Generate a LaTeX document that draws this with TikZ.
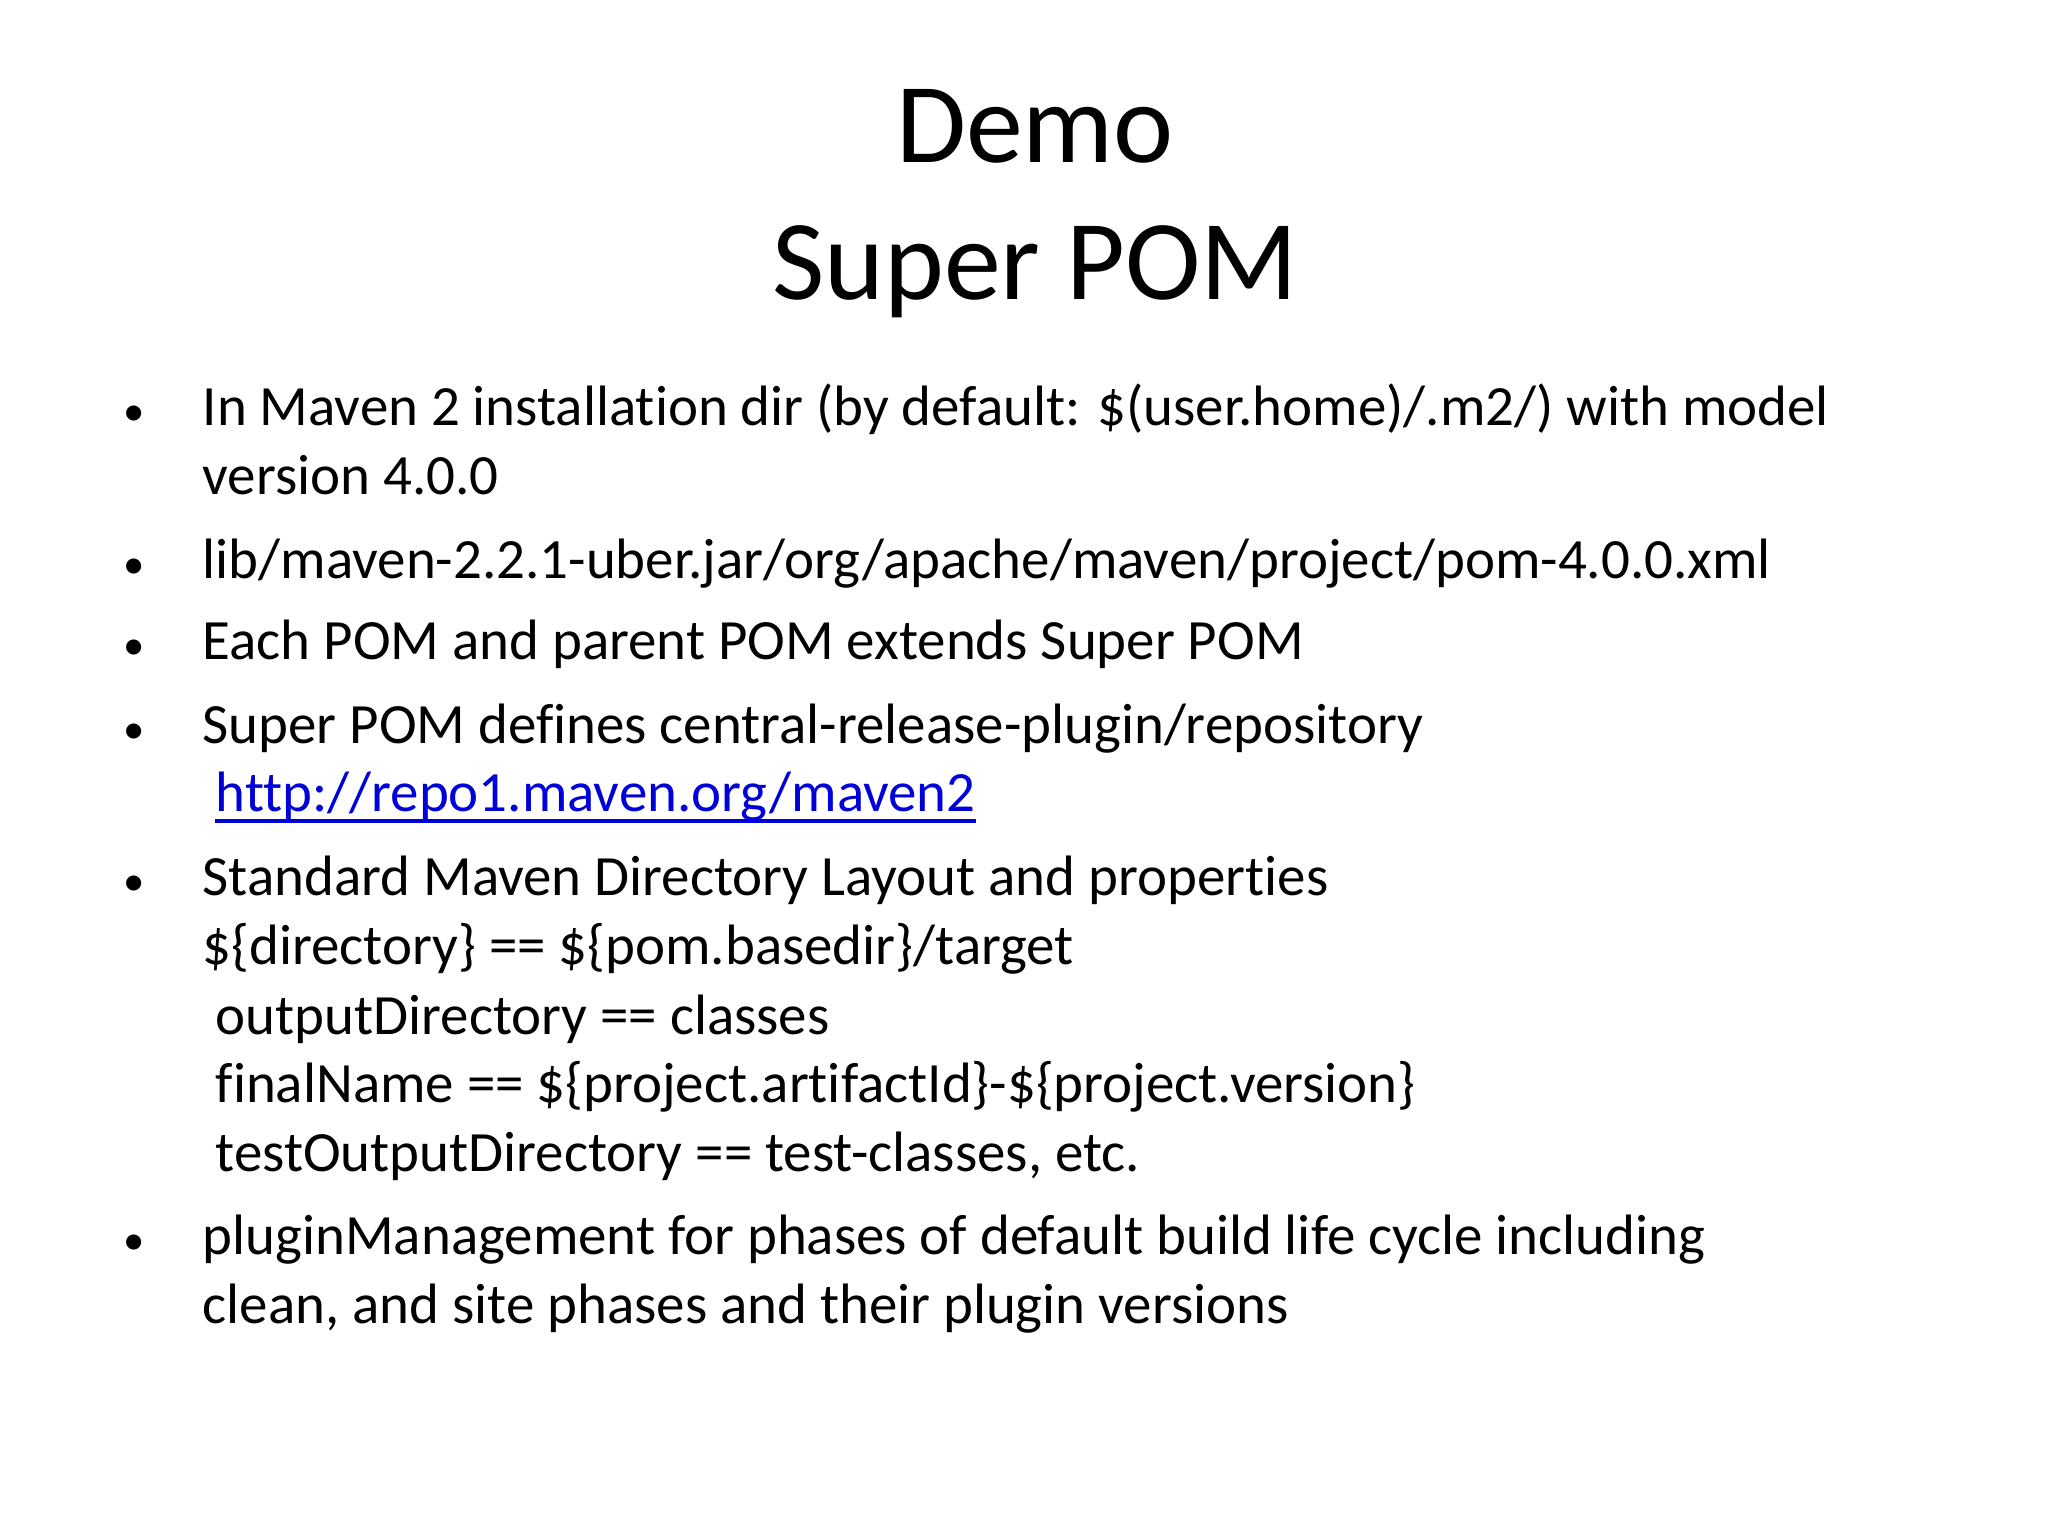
\documentclass[tikz,border=0pt]{standalone}
\usepackage{fontspec}
\setmainfont[Ligatures=NoCommon]{Carlito}
\begin{document}
\begin{tikzpicture}[x=1cm,y=1cm,
  tl/.style={anchor=base west,inner sep=0pt,font=\fontsize{16.2}{20}\selectfont},
  bul/.style={anchor=base,inner sep=0pt,font=\fontsize{16.2}{20}\selectfont},
  ttl/.style={anchor=base,inner sep=0pt,font=\fontsize{32.4}{38}\selectfont}]
\useasboundingbox[fill=white] (0,0) rectangle (20.48,-15.36);
\node[ttl] (t1) at (10.35,-1.63) {Demo};
\node[ttl] (t2) at (10.35,-3.00) {Super POM};
\foreach \y/\n in {4.26/b1,5.78/b2,6.60/b3,7.43/b4,8.95/b5,12.54/b6}
  \node[bul] (\n) at (1.34,-\y) {\scalebox{0.75}{•}};
\node[tl] (l1) at (2.02,-4.26) {In Maven 2 installation dir (by default: \$(user.home)/.m2/) with model};
\node[tl] (l2) at (2.02,-4.95) {version 4.0.0};
\node[tl] (l3) at (2.02,-5.78) {lib/maven-2.2.1-uber.jar/org/apache/maven/project/pom-4.0.0.xml};
\node[tl] (l4) at (2.02,-6.60) {Each POM and parent POM extends Super POM};
\node[tl] (l5) at (2.02,-7.43) {Super POM defines central-release-plugin/repository};
\node[tl,text=blue!85!black] (l6) at (2.15,-8.12) {http://repo1.maven.org/maven2};
\draw[blue!85!black,line width=0.9pt] ([yshift=-0.09cm]l6.base west) -- ([yshift=-0.09cm]l6.base east);
\node[tl] (l7) at (2.02,-8.95) {Standard Maven Directory Layout and properties};
\node[tl] (l8) at (2.02,-9.64) {\$\{directory\} == \$\{pom.basedir\}/target};
\node[tl] (l9) at (2.15,-10.34) {outputDirectory == classes};
\node[tl] (l10) at (2.15,-11.02) {finalName == \$\{project.artifactId\}-\$\{project.version\}};
\node[tl] (l11) at (2.15,-11.71) {testOutputDirectory == test-classes, etc.};
\node[tl] (l12) at (2.02,-12.54) {pluginManagement for phases of default build life cycle including};
\node[tl] (l13) at (2.02,-13.23) {clean, and site phases and their plugin versions};
\end{tikzpicture}
\end{document}
